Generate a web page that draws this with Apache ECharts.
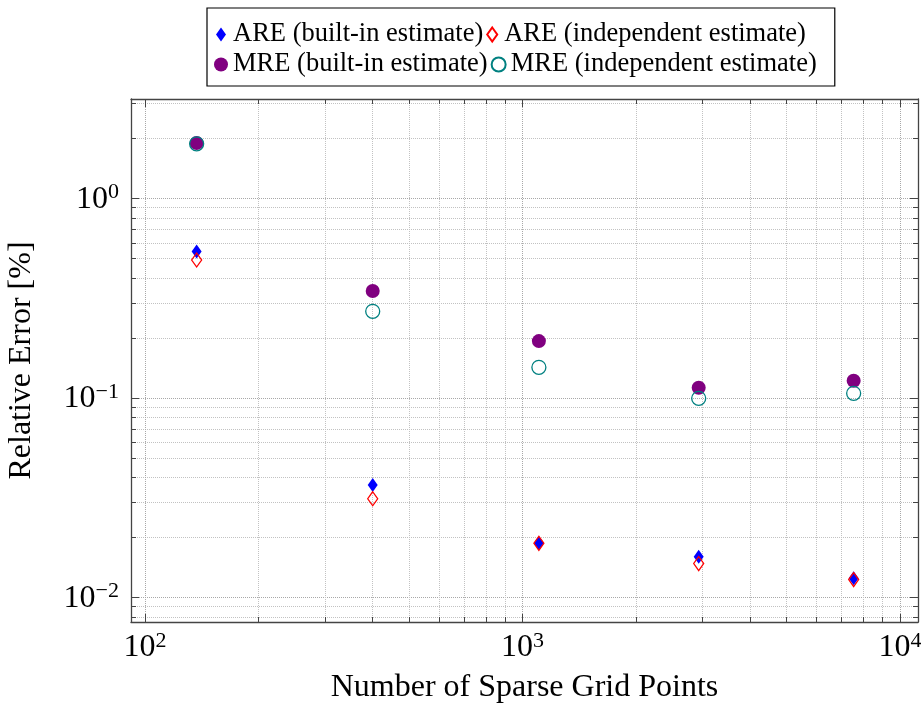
<!DOCTYPE html>
<html>
<head>
<meta charset="utf-8">
<script src="https://cdn.jsdelivr.net/npm/echarts@6/dist/echarts.min.js"></script>
<style>
  html, body { margin: 0; padding: 0; background: #fff; }
  #chart { width: 921px; height: 705px; }
</style>
</head>
<body>
<div id="chart"></div>
<script>
// sparse grid sizes and relative errors [%]
const gridPoints = [137, 401, 1105, 2929, 7537];
const areBuiltIn = [0.542, 0.0366, 0.0187, 0.0160, 0.0125];
const areIndep = [0.492, 0.0313, 0.0187, 0.0148, 0.0123];
const mreBuiltIn = [1.90, 0.344, 0.193, 0.1126, 0.122];
const mreIndep = [1.88, 0.272, 0.1426, 0.0997, 0.1056];

const xMajor = [100, 1000, 10000];
const xMinor = [200, 300, 400, 500, 600, 700, 800, 900, 2000, 3000, 4000, 5000, 6000, 7000, 8000, 9000];
const yMajor = [0.01, 0.1, 1];
const yMinor = [0.008, 0.009, 0.02, 0.03, 0.04, 0.05, 0.06, 0.07, 0.08, 0.09,
  0.2, 0.3, 0.4, 0.5, 0.6, 0.7, 0.8, 0.9, 2, 3];

const X_MIN = 91.8, X_MAX = 11160;
const Y_MIN = 0.00754, Y_MAX = 3.155;

const FONT = '"Liberation Serif", "DejaVu Serif", serif';
const AXIS_COLOR = '#444';

const pairs = ys => gridPoints.map((x, i) => [x, ys[i]]);

const powLabel = v => {
  const e = Math.round(Math.log10(v));
  return '{b|10}{s|' + (e < 0 ? '\u2212' + (-e) : e) + '}';
};
const richLabel = {
  b: { fontSize: 32, fontFamily: FONT, color: '#000', lineHeight: 34, verticalAlign: 'bottom' },
  s: { fontSize: 22, fontFamily: FONT, color: '#000', lineHeight: 22, verticalAlign: 'top' }
};

function tickAxis(kind, pos, values, len, opts) {
  return Object.assign({
    type: 'log',
    position: pos,
    min: kind === 'x' ? X_MIN : Y_MIN,
    max: kind === 'x' ? X_MAX : Y_MAX,
    axisLine: { show: false },
    axisTick: { show: true, inside: true, length: len, customValues: values,
      lineStyle: { color: AXIS_COLOR, width: 1 } },
    axisLabel: { show: false },
    splitLine: { show: false }
  }, opts || {});
}

const chart = echarts.init(document.getElementById('chart'));
chart.setOption({
  animation: false,
  grid: { left: 131, right: 3, top: 99, bottom: 83, show: false, containLabel: false, outerBoundsMode: 'none' },
  legend: {
    left: 207,
    top: 8,
    padding: [13, 18, 8, 7],
    width: 660,
    itemGap: 3,
    itemWidth: 14,
    itemHeight: 14,
    borderColor: '#000',
    borderWidth: 1.2,
    borderRadius: 0,
    textStyle: { fontFamily: FONT, fontSize: 26.5, color: '#000' },
    data: [
      { name: 'ARE (built-in estimate)', icon: 'path://M5,0L10,7L5,14L0,7Z', textStyle: { width: 262 } },
      { name: 'ARE (independent estimate)', icon: 'path://M5,0L10,7L5,14L0,7Z' },
      { name: 'MRE (built-in estimate)', icon: 'circle', textStyle: { width: 262 } },
      { name: 'MRE (independent estimate)', icon: 'circle' }
    ]
  },
  xAxis: [
    tickAxis('x', 'bottom', xMajor, 8, {
      axisLine: { show: true, lineStyle: { color: AXIS_COLOR, width: 1.3 } },
      axisLabel: { show: true, customValues: xMajor, margin: 8, formatter: powLabel, rich: richLabel },
      splitLine: { show: true, lineStyle: { color: '#a8a8a8', type: 'dotted', width: 1 } },
      name: 'Number of Sparse Grid Points',
      nameLocation: 'middle',
      nameGap: 50,
      nameTextStyle: { fontFamily: FONT, fontSize: 32, color: '#000' }
    }),
    tickAxis('x', 'bottom', xMinor, 5, {
      splitLine: { show: true, lineStyle: { color: '#c2c2c2', type: 'dotted', width: 1 } }
    }),
    tickAxis('x', 'top', xMajor, 8, {
      axisLine: { show: true, lineStyle: { color: AXIS_COLOR, width: 1.3 } }
    }),
    tickAxis('x', 'top', xMinor, 5)
  ],
  yAxis: [
    tickAxis('y', 'left', yMajor, 8, {
      axisLine: { show: true, lineStyle: { color: AXIS_COLOR, width: 1.3 } },
      axisLabel: { show: true, customValues: yMajor, margin: 12, formatter: powLabel, rich: richLabel },
      splitLine: { show: true, lineStyle: { color: '#a8a8a8', type: 'dotted', width: 1 } },
      name: 'Relative Error [%]',
      nameLocation: 'middle',
      nameGap: 93,
      nameTextStyle: { fontFamily: FONT, fontSize: 32, color: '#000' }
    }),
    tickAxis('y', 'left', yMinor, 5, {
      splitLine: { show: true, lineStyle: { color: '#c2c2c2', type: 'dotted', width: 1 } }
    }),
    tickAxis('y', 'right', yMajor, 8, {
      axisLine: { show: true, lineStyle: { color: AXIS_COLOR, width: 1.3 } }
    }),
    tickAxis('y', 'right', yMinor, 5)
  ],
  series: [
    {
      name: 'ARE (built-in estimate)', type: 'scatter', data: pairs(areBuiltIn),
      symbol: 'diamond', symbolSize: [10, 14],
      itemStyle: { color: '#0000ff', opacity: 1 }
    },
    {
      name: 'ARE (independent estimate)', type: 'scatter', data: pairs(areIndep),
      symbol: 'diamond', symbolSize: [10, 14],
      itemStyle: { color: 'rgba(0,0,0,0)', borderColor: '#ff0000', borderWidth: 1.3, opacity: 1 }
    },
    {
      name: 'MRE (built-in estimate)', type: 'scatter', data: pairs(mreBuiltIn),
      symbol: 'circle', symbolSize: 14,
      itemStyle: { color: '#800080', opacity: 1 }
    },
    {
      name: 'MRE (independent estimate)', type: 'scatter', data: pairs(mreIndep),
      symbol: 'circle', symbolSize: 14,
      itemStyle: { color: 'rgba(0,0,0,0)', borderColor: '#008080', borderWidth: 1.3, opacity: 1 }
    }
  ]
});
</script>
</body>
</html>
